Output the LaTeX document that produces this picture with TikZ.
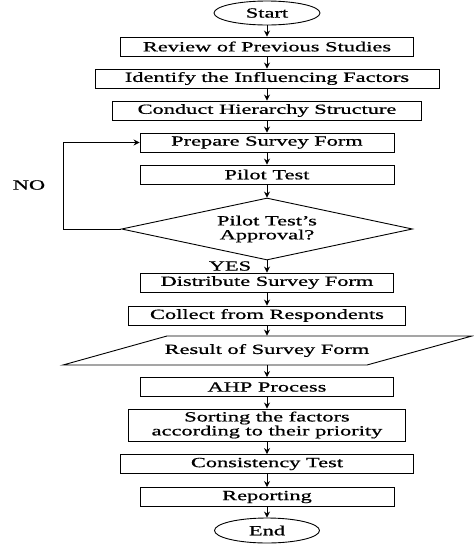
\documentclass[tikz,border=0pt]{standalone}
\usepackage{fontspec}
\setmainfont{Liberation Serif}[FakeStretch=1.6,FakeBold=0.8]
\usepackage{tikz}
\usetikzlibrary{arrows.meta,shapes}

\begin{document}
\begin{tikzpicture}[x=1pt,y=-1pt,>={Stealth[length=6pt,width=6pt]},line width=0.9pt,
  every node/.style={font=\fontsize{14}{14}\selectfont},
  process/.style={draw,rectangle,minimum height=19pt,inner sep=0pt},
  terminal/.style={draw,ellipse,minimum width=106pt,minimum height=24pt,inner sep=0pt},
  decision/.style={draw,diamond,aspect=4.7,minimum width=291pt,minimum height=62pt,inner sep=0pt,align=center}]
\useasboundingbox (0,0) rectangle (474,544);
\node[terminal](start)at(267,13){Start};
\node[process,minimum width=293pt](review)at(267,46.5){Review of Previous Studies};
\node[process,minimum width=344pt](identify)at(267,78.5){Identify the Influencing Factors};
\node[process,minimum width=309pt](conduct)at(267,110.5){Conduct Hierarchy Structure};
\node[process,minimum width=254pt](prepare)at(267,142.5){Prepare Survey Form};
\node[process,minimum width=254pt](pilot)at(267,174.5){Pilot Test};
\node[decision](approval)at(267,229){Pilot Test's\\Approval?};
\node[process,minimum width=253pt](distribute)at(267,282.5){Distribute Survey Form};
\node[process,minimum width=277pt](collect)at(267,315.5){Collect from Respondents};
\node[minimum width=200pt,minimum height=29pt,inner sep=0pt](result)at(267,350.5){Result of Survey Form};
\draw(167,336)--(472,336)--(367,365)--(63,365)--cycle;
\node[process,minimum width=253pt](ahp)at(267,387){AHP Process};
\node[process,minimum width=277pt,minimum height=32pt,align=center](sorting)at(267,425){Sorting the factors\\according to their priority};
\node[process,minimum width=293pt](consistency)at(267,464){Consistency Test};
\node[process,minimum width=254pt](reporting)at(267,497){Reporting};
\node[terminal,minimum width=105pt,minimum height=25pt](end)at(267,530.5){End};
\foreach \a/\b in {start/review,review/identify,identify/conduct,conduct/prepare,prepare/pilot,pilot/approval,approval/distribute,distribute/collect,collect/result,result/ahp,ahp/sorting,sorting/consistency,consistency/reporting,reporting/end}
\draw[->](\a)--(\b);
\draw[->](approval.west)--++(-58,0)|-(prepare.west);
\node(no)at(29,185){NO};
\node(yes)at(230,266){YES};
\end{tikzpicture}
\end{document}
